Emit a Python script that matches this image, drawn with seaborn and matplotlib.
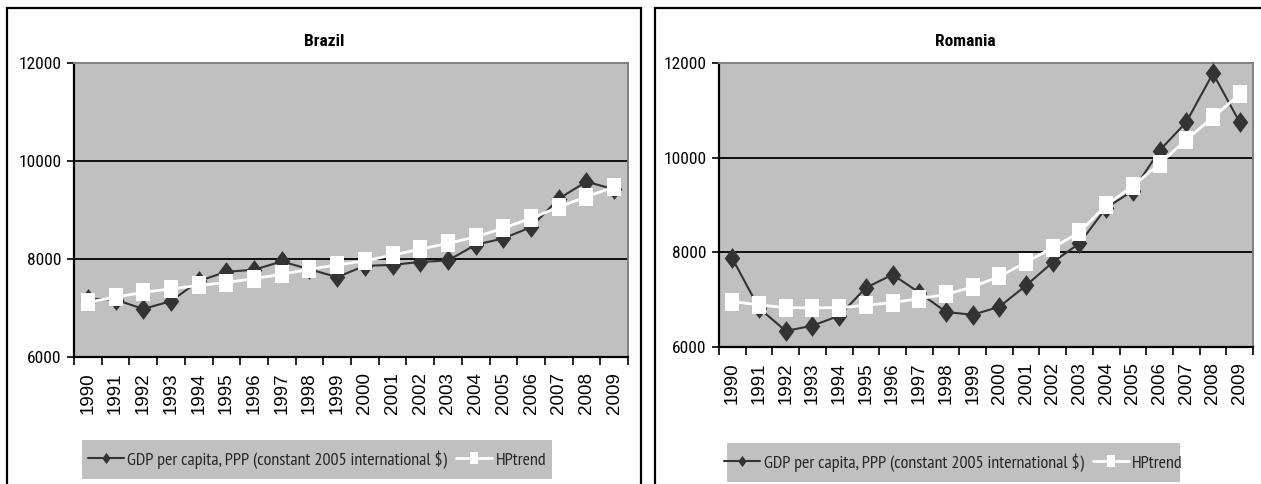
import matplotlib
matplotlib.use("Agg")
import matplotlib.pyplot as plt
from matplotlib.patches import Rectangle
from matplotlib.lines import Line2D
import seaborn as sns
import pandas as pd
import numpy as np

# --- data -------------------------------------------------------------
years = [str(y) for y in range(1990, 2010)]

brazil_gdp = [7190, 7170, 6980, 7140, 7550, 7740, 7780, 7950, 7790, 7630,
              7860, 7880, 7940, 7970, 8290, 8420, 8650, 9230, 9580, 9420]
brazil_hp = [7120, 7220, 7320, 7390, 7460, 7520, 7600, 7690, 7790, 7880,
             7960, 8080, 8200, 8320, 8450, 8630, 8830, 9060, 9270, 9470]

romania_gdp = [7870, 6820, 6340, 6450, 6660, 7250, 7530, 7150, 6740, 6680,
               6850, 7300, 7790, 8190, 8940, 9300, 10150, 10750, 11780, 10750]
romania_hp = [6960, 6890, 6830, 6830, 6830, 6880, 6940, 7020, 7110, 7270,
              7490, 7790, 8100, 8420, 9000, 9400, 9870, 10380, 10850, 11340]

series_gdp = "GDP per capita, PPP (constant 2005 international $)"
series_hp = "HPtrend"

# --- style ------------------------------------------------------------
sns.set_theme(style="white")
plt.rcParams["font.family"] = ["Roboto Condensed", "Liberation Sans", "DejaVu Sans"]
NARROW = ["PT Sans Narrow", "Roboto Condensed", "DejaVu Sans"]

W, H = 1261, 484
fig = plt.figure(figsize=(W / 100, H / 100), dpi=100)
fig.patch.set_facecolor("white")

DARK = "#333333"
PLOT_BG = "#C0C0C0"

# tall diamond and tall square markers
diamond = [(0, 1), (0.75, 0), (0, -1), (-0.75, 0), (0, 1)]
square = [(-0.76, -1), (0.76, -1), (0.76, 1), (-0.76, 1), (-0.76, -1)]


def px_rect(x0, y0, x1, y1):
    """figure-fraction rect from pixel coords (top-left origin)."""
    return [x0 / W, 1 - y1 / H, (x1 - x0) / W, (y1 - y0) / H]


def panel(title, gdp, hp, plot_box, frame_box, legend_box, dsize, ssize):
    fx0, fy0, fx1 = frame_box
    # outer chart frame (open at the bottom)
    fig.add_artist(Rectangle((fx0 / W, -0.2), (fx1 - fx0) / W, 1.2 - fy0 / H,
                             transform=fig.transFigure, fill=False,
                             edgecolor="black", linewidth=1.6))
    fig.text(((fx0 + fx1) / 2) / W, 1 - 42 / H, title, ha="center", va="center",
             fontsize=12.5, fontweight="bold", color="black")

    ax = fig.add_axes(px_rect(*plot_box))
    ax.set_facecolor(PLOT_BG)
    df = pd.DataFrame({"pos": np.arange(len(years)), "gdp": gdp, "hp": hp})

    sns.lineplot(data=df, x="pos", y="gdp", ax=ax, color=DARK, linewidth=1.5,
                 marker=diamond, markersize=dsize, markerfacecolor=DARK,
                 markeredgecolor=DARK, markeredgewidth=0, zorder=3)
    sns.lineplot(data=df, x="pos", y="hp", ax=ax, color="white", linewidth=2,
                 marker=square, markersize=ssize, markerfacecolor="white",
                 markeredgecolor="white", markeredgewidth=0, zorder=4)

    ax.set_xlim(-0.5, len(years) - 0.5)
    ax.set_ylim(6000, 12000)
    ax.set_yticks([6000, 8000, 10000, 12000])
    ax.set_yticklabels(["6000", "8000", "10000", "12000"], fontsize=12.5)
    for yv in (8000, 10000):
        ax.axhline(yv, color="black", linewidth=1.3, zorder=1)

    ax.set_xticks(np.arange(len(years)))
    ax.set_xticklabels(years, rotation=90, fontsize=13.5,
                       family=["Liberation Sans", "DejaVu Sans"])
    ax.set_xticks(np.arange(len(years) + 1) - 0.5, minor=True)
    ax.tick_params(axis="x", which="major", length=0, pad=11, colors="black")
    ax.tick_params(axis="x", which="minor", length=6, width=1.2, color="black",
                   direction="out", bottom=True)
    ax.tick_params(axis="y", length=5, width=1.2, color="black", direction="out",
                   left=True, pad=4, colors="black")
    ax.set_xlabel("")
    ax.set_ylabel("")

    for side in ("left", "bottom"):
        ax.spines[side].set_color("black")
        ax.spines[side].set_linewidth(1.6)
    for side in ("top", "right"):
        ax.spines[side].set_color("#808080")
        ax.spines[side].set_linewidth(1.4)
    ax.spines["bottom"].set_zorder(5)

    # legend panel
    lx0, ly0, lx1, ly1 = legend_box
    fig.add_artist(Rectangle((lx0 / W, 1 - ly1 / H), (lx1 - lx0) / W, (ly1 - ly0) / H,
                             transform=fig.transFigure, facecolor=PLOT_BG,
                             edgecolor="none"))
    handles = [
        Line2D([], [], color=DARK, linewidth=1.5, marker=diamond, markersize=8,
               markerfacecolor=DARK, markeredgewidth=0),
        Line2D([], [], color="white", linewidth=2, marker=square, markersize=8,
               markerfacecolor="white", markeredgewidth=0),
    ]
    fig.legend(handles, [series_gdp, series_hp], loc="center",
               bbox_to_anchor=(((lx0 + lx1) / 2) / W, 1 - ((ly0 + ly1) / 2) / H),
               ncol=2, frameon=False, prop={"family": NARROW, "size": 13},
               handlelength=2.0, handletextpad=0.2, columnspacing=0.5, borderpad=0)
    return ax


panel("Brazil", brazil_gdp, brazil_hp,
      plot_box=(74, 63, 628, 357), frame_box=(7, 8, 641),
      legend_box=(82, 440, 552, 479), dsize=15, ssize=13)
panel("Romania", romania_gdp, romania_hp,
      plot_box=(719, 63, 1253, 347), frame_box=(655, 8, 1275),
      legend_box=(727, 443, 1180, 482), dsize=15, ssize=13)

fig.savefig("out.png", dpi=100, facecolor="white")
